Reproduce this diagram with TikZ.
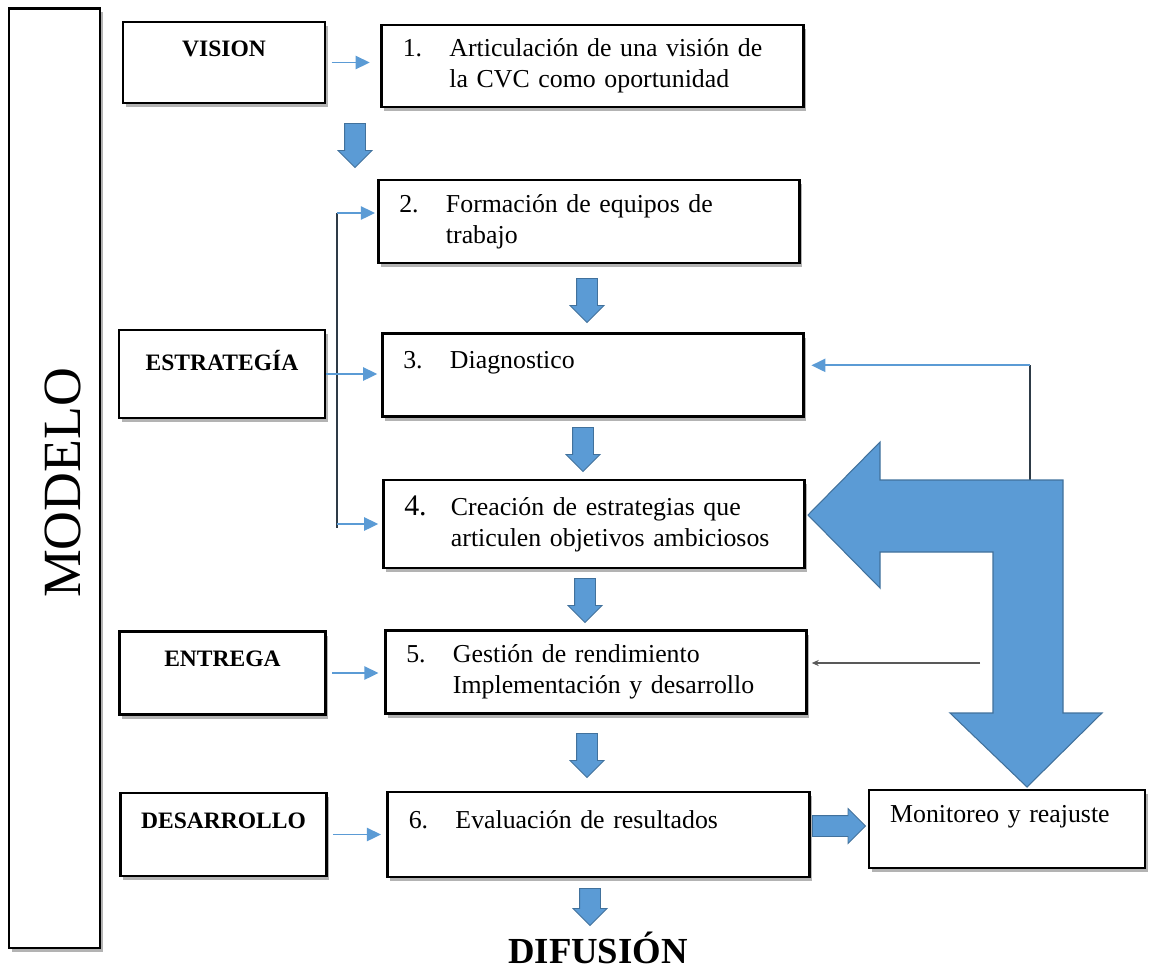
\documentclass[tikz,border=0pt]{standalone}
\usepackage{fontspec}
\setmainfont{Liberation Serif}
\usetikzlibrary{positioning, calc, shapes.arrows, shadows, arrows.meta}

\definecolor{azul}{HTML}{5B9BD5}
\definecolor{bordeazul}{HTML}{41719C}
\definecolor{gris}{HTML}{2E3B47}

\newcommand{\cuerpo}{\fontsize{14.7}{17.5}\selectfont}
\newcommand{\etiq}{\fontsize{13.4}{16}\selectfont\bfseries}
\newcommand{\paso}[1]{\makebox[26.6pt][l]{#1}}
\newcommand{\sangria}{\hspace*{26.6pt}}

\tikzset{
  caja/.style={rectangle, draw=black, line width=1.6pt, fill=white,
    drop shadow={shadow xshift=1.5pt, shadow yshift=-2.5pt, opacity=0.6}},
  paso/.style={caja, text width=216pt, inner xsep=12pt, minimum height=1.66cm, align=left, font=\cuerpo},
  etiqueta/.style={caja, minimum width=4.12cm, minimum height=1.66cm, align=center, font=\etiq},
  flecha/.style={azul, line width=1.1pt, -{Triangle[length=8pt,width=7.5pt]}},
  linea/.style={gris, line width=1.1pt},
  fino/.style={gray!70!black, line width=0.6pt, -{Stealth[length=4pt,width=3.5pt]}},
  bloque/.style={single arrow, draw=bordeazul, fill=azul, line width=0.5pt, inner xsep=0pt, inner ysep=0.2cm,
    minimum width=0.66cm, minimum height=0.88cm, single arrow head extend=0.13cm, anchor=tail}
}

\begin{document}
\begin{tikzpicture}[x=0.02cm, y=-0.02cm]
  \useasboundingbox (0,0) rectangle (1149,971);

  % marco lateral
  \node[caja, minimum width=1.82cm, minimum height=18.8cm] (modelo) at (54.5,478) {};
  \node[rotate=90, font=\fontsize{30.6}{30.6}\selectfont] (modelotxt) at (63,483) {MODELO};

  % etiquetas
  \node[etiqueta, minimum width=4.04cm, minimum height=1.62cm] (vision) at (224,62.5) {VISION\\~};
  \node[etiqueta, minimum height=1.76cm] (estrategia) at (222,374) {ESTRATEGÍA\\~};
  \node[etiqueta] (entrega) at (222.5,673) {ENTREGA\\~};
  \node[etiqueta] (desarrollo) at (223.5,834.5) {DESARROLLO\\~};

  % pasos
  \node[paso, minimum height=1.64cm] (b1) at (592.5,66) {\paso{1.}Articulación de una visión de\\\sangria la CVC como oportunidad};
  \node[paso] (b2) at (589,221.5) {\paso{2.}Formación de equipos de\\\sangria trabajo};
  \node[paso] (b3) at (593,375) {\paso{3.}Diagnostico\\~};
  \node[paso, minimum height=1.76cm] (b4) at (594,524) {\paso{\fontsize{17}{17}\selectfont 4.}Creación de estrategias que\\\sangria articulen objetivos ambiciosos};
  \node[paso] (b5) at (596,672) {\paso{5.}Gestión de rendimiento\\\sangria Implementación y desarrollo};
  \node[paso, minimum height=1.7cm] (b6) at (598.5,834.5) {\paso{6.}Evaluación de resultados\\~};
  \node[caja, text width=133pt, inner xsep=12pt, minimum height=1.56cm, align=left, font=\cuerpo] (monitoreo) at (1007,829) {Monitoreo y reajuste\\~};

  % flechas de bloque
  \node[bloque, rotate=-90] (f1) at (355,123) {};
  \node[bloque, rotate=-90] (f2) at (587,278) {};
  \node[bloque, rotate=-90] (f3) at (583,427) {};
  \node[bloque, rotate=-90] (f4) at (585,578) {};
  \node[bloque, rotate=-90] (f5) at (587,733) {};
  \node[bloque, rotate=-90, minimum height=0.74cm] (f6) at (590,888) {};
  \node[bloque, minimum height=1.06cm, minimum width=0.68cm, single arrow head extend=0.14cm] (fm) at (812,826) {};

  \node[font=\fontsize{20.9}{21}\selectfont\bfseries] (difusion) at (598,948) {DIFUSIÓN};

  % conectores
  \draw[flecha, shorten <=3pt, shorten >=6pt] (vision.east) -- (vision.east -| b1.west);

  \coordinate (eje) at (337,213);
  \coordinate (ejefin) at (337,528);
  \draw[linea] (eje) -- (ejefin);
  \draw[flecha, shorten >=1pt] (eje) -- (eje -| b2.west);
  \draw[flecha, shorten >=2pt] (estrategia.east) -- (estrategia.east -| b3.west);
  \draw[flecha, shorten >=2pt] (eje |- b4.west) -- (b4.west);
  \draw[flecha, shorten <=3pt, shorten >=3pt] (entrega.east) -- (entrega.east -| b5.west);
  \draw[flecha, shorten <=3pt, shorten >=3pt] (desarrollo.east) -- (desarrollo.east -| b6.west);

  % retroalimentacion
  \coordinate (codo) at (1030,480);
  \coordinate (r3) at ([yshift=5.5pt]b3.east);
  \draw[linea] (codo) -- (codo |- r3);
  \draw[flecha, shorten >=3.5pt] (codo |- r3) -- (r3);
  \coordinate (r5) at (980,663);
  \draw[fino, shorten >=2pt] (r5) -- (r5 -| b5.east);

  % flecha doblada
  \draw[bordeazul, fill=azul, line width=0.6pt] (808,515) -- (880,442) -- (880,480) -- (1063,480)
    -- (1063,713) -- (1102,713) -- (1027,787) -- (950,713) -- (993,713) -- (993,552)
    -- (880,552) -- (880,588) -- cycle;
\end{tikzpicture}
\end{document}
